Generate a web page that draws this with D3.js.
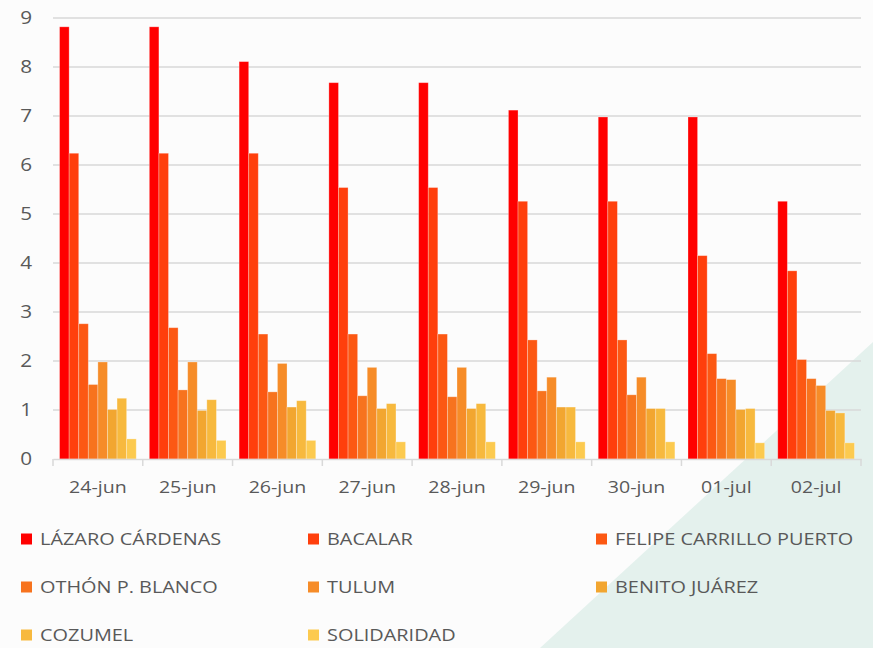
<!DOCTYPE html>
<html>
<head>
<meta charset="utf-8">
<script src="https://cdn.jsdelivr.net/npm/d3@7"></script>
<style>
  body { margin: 0; background: #fcfcfc; }
  svg { display: block; }
  text { font-family: "Open Sans", sans-serif; fill: #595959; }
</style>
</head>
<body>
<div id="chart"></div>
<script>
const dates = ["24-jun", "25-jun", "26-jun", "27-jun", "28-jun", "29-jun", "30-jun", "01-jul", "02-jul"];
const municipios = ["LÁZARO CÁRDENAS", "BACALAR", "FELIPE CARRILLO PUERTO", "OTHÓN P. BLANCO",
    "TULUM", "BENITO JUÁREZ", "COZUMEL", "SOLIDARIDAD"];
const colores = ["#ff0000", "#ff3f0c", "#fc5813", "#f7731e", "#f68c28", "#f2a630", "#f7b93e", "#fcca4f"];

// one array per municipio, one value per date
const lazaroCardenas = [8.82, 8.82, 8.11, 7.68, 7.68, 7.12, 6.98, 6.98, 5.26];
const bacalar        = [6.24, 6.24, 6.24, 5.54, 5.54, 5.26, 5.26, 4.15, 3.84];
const felipeCarrillo = [2.76, 2.68, 2.55, 2.55, 2.55, 2.43, 2.43, 2.15, 2.03];
const othonBlanco    = [1.52, 1.41, 1.37, 1.29, 1.27, 1.39, 1.31, 1.64, 1.64];
const tulum          = [1.98, 1.98, 1.95, 1.87, 1.87, 1.67, 1.67, 1.62, 1.50];
const benitoJuarez   = [1.01, 0.99, 1.06, 1.03, 1.03, 1.06, 1.03, 1.01, 0.99];
const cozumel        = [1.24, 1.21, 1.19, 1.13, 1.13, 1.06, 1.03, 1.03, 0.94];
const solidaridad    = [0.41, 0.38, 0.38, 0.35, 0.35, 0.35, 0.35, 0.33, 0.33];
const series = [lazaroCardenas, bacalar, felipeCarrillo, othonBlanco, tulum, benitoJuarez, cozumel, solidaridad];
const yTicks = [0, 1, 2, 3, 4, 5, 6, 7, 8, 9];

const width = 873, height = 648;
const margin = { top: 18, left: 53, right: 12, bottom: 189 };

const svg = d3.select("#chart").append("svg")
    .attr("width", width)
    .attr("height", height);

// soft green shape in the lower right corner
svg.append("polygon")
    .attr("points", `${width},342 ${width},${height} 540,${height}`)
    .attr("fill", "#e4f1ed");

const x0 = d3.scaleBand()
    .domain(dates)
    .range([margin.left, width - margin.right])
    .paddingInner(0.146)
    .paddingOuter(0.073);

const x1 = d3.scaleBand()
    .domain(d3.range(municipios.length))
    .range([0, x0.bandwidth()]);

const y = d3.scaleLinear()
    .domain([0, 9])
    .range([height - margin.bottom, margin.top]);

// the original text is drawn a bit wider than the font, so stretch it
function widen(sel, k) {
    sel.each(function() {
        const w = this.getComputedTextLength();
        d3.select(this)
            .attr("textLength", w * k)
            .attr("lengthAdjust", "spacingAndGlyphs");
    });
}

// gridlines
svg.append("g")
    .selectAll("line")
    .data(yTicks.slice(1))
    .enter().append("line")
    .attr("x1", margin.left)
    .attr("x2", width - margin.right)
    .attr("y1", d => y(d))
    .attr("y2", d => y(d))
    .attr("stroke", "#d9d9d9")
    .attr("stroke-width", 1.5);

// bars
const groups = svg.append("g")
    .selectAll("g")
    .data(dates)
    .enter().append("g")
    .attr("transform", d => `translate(${x0(d)},0)`);

groups.selectAll("rect")
    .data((d, i) => series.map((s, k) => ({ k: k, v: s[i] })))
    .enter().append("rect")
    .attr("x", d => x1(d.k))
    .attr("width", x1.bandwidth())
    .attr("y", d => y(d.v))
    .attr("height", d => y(0) - y(d.v))
    .attr("fill", d => colores[d.k])
    .attr("stroke", "rgba(255,255,255,0.35)")
    .attr("stroke-width", 0.8);

// x axis
const xAxis = svg.append("g")
    .attr("transform", `translate(0,${y(0)})`)
    .call(d3.axisBottom(x0).tickSize(0).tickPadding(22));
xAxis.select(".domain").attr("stroke", "#d9d9d9").attr("stroke-width", 1.5);
xAxis.selectAll("text").style("font-size", "17px").attr("fill", "#595959").call(widen, 1.15);

// category separators under the axis
const bounds = dates.map(d => x0(d) - x0.step() * x0.paddingInner() / 2);
bounds.push(width - margin.right);
xAxis.append("g")
    .selectAll("line")
    .data(bounds)
    .enter().append("line")
    .attr("x1", d => d).attr("x2", d => d)
    .attr("y1", 0).attr("y2", 7)
    .attr("stroke", "#d9d9d9")
    .attr("stroke-width", 1.5);

// y axis labels
const yAxis = svg.append("g")
    .attr("transform", `translate(${margin.left},0)`)
    .call(d3.axisLeft(y).tickValues(yTicks).tickSize(0).tickPadding(21));
yAxis.select(".domain").remove();
yAxis.selectAll("text").style("font-size", "18px").attr("fill", "#595959").call(widen, 1.15);

// legend, three columns
const legendX = [21, 308, 596];
const legendY = [539, 587, 635];
const legend = svg.append("g")
    .selectAll("g")
    .data(municipios)
    .enter().append("g")
    .attr("transform", (d, i) => `translate(${legendX[i % 3]},${legendY[Math.floor(i / 3)]})`);

legend.append("rect")
    .attr("x", 0)
    .attr("y", -5.5)
    .attr("width", 11)
    .attr("height", 11)
    .attr("fill", (d, i) => colores[i]);

legend.append("text")
    .attr("x", 19)
    .attr("dy", "0.35em")
    .style("font-size", "17px")
    .text(d => d)
    .call(widen, 1.17);
</script>
</body>
</html>
